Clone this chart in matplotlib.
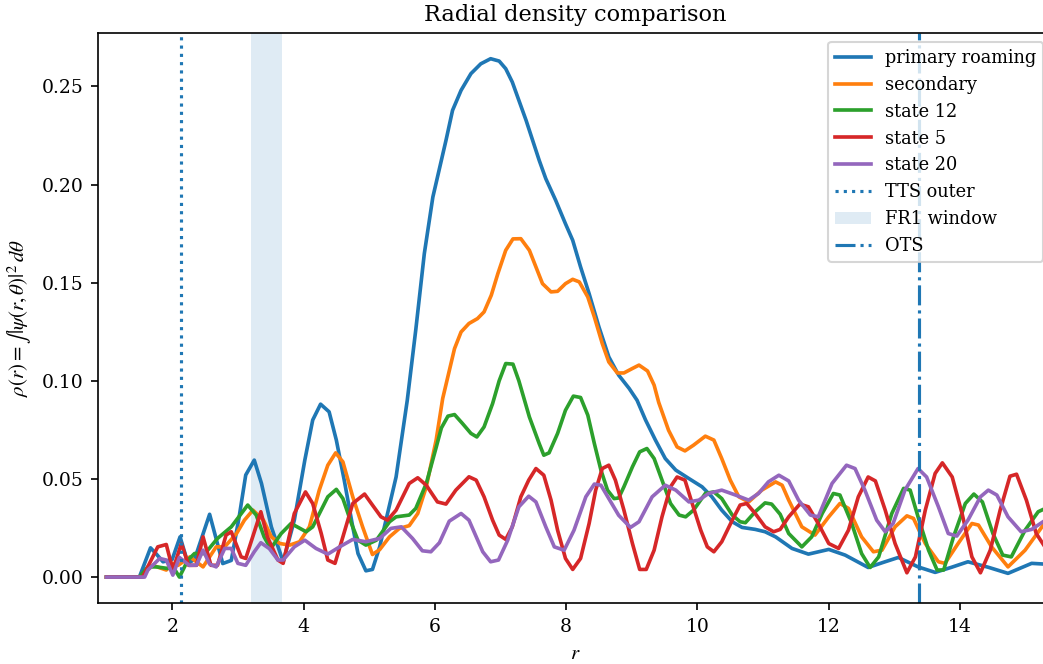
import matplotlib
matplotlib.use("Agg")
import matplotlib.pyplot as plt

# radial densities
r_primary = [1.0, 1.5, 1.67, 1.76, 1.86, 2.0, 2.12, 2.24, 2.34, 2.57, 2.77, 2.90, 3.02, 3.12, 3.25,
             3.36, 3.51, 3.69, 3.86, 4.02, 4.14, 4.26, 4.39, 4.50, 4.62, 4.75, 4.83, 4.95, 5.05,
             5.16, 5.28, 5.41, 5.58, 5.71, 5.84, 5.97, 6.17, 6.27, 6.40, 6.55, 6.70, 6.85, 6.98,
             7.08, 7.18, 7.28, 7.39, 7.49, 7.59, 7.69, 7.84, 7.99, 8.10, 8.22, 8.35, 8.50, 8.65,
             8.80, 8.96, 9.08, 9.21, 9.36, 9.51, 9.67, 9.87, 10.07, 10.22, 10.37, 10.53, 10.68,
             10.88, 11.03, 11.19, 11.44, 11.69, 12.0, 12.25, 12.60, 12.83, 13.06, 13.36, 13.62,
             13.87, 14.12, 14.43, 14.73, 15.09, 15.3]
rho_primary = [0.0, 0.0, 0.0149, 0.0117, 0.0078, 0.009, 0.0205, 0.007, 0.009, 0.032, 0.0069, 0.0085,
               0.0307, 0.052, 0.0596, 0.0477, 0.0256, 0.0078, 0.029, 0.0596, 0.080, 0.0881, 0.0842,
               0.0698, 0.0494, 0.0256, 0.012, 0.0032, 0.0039, 0.0154, 0.0324, 0.051, 0.090, 0.126,
               0.1648, 0.1936, 0.2225, 0.2378, 0.248, 0.2565, 0.2615, 0.2641, 0.2629, 0.259, 0.2522,
               0.2429, 0.2327, 0.2225, 0.2123, 0.203, 0.192, 0.180, 0.1716, 0.158, 0.1444, 0.1274,
               0.1122, 0.1029, 0.0961, 0.0901, 0.080, 0.0698, 0.0604, 0.0545, 0.0502, 0.046, 0.0409,
               0.0341, 0.0282, 0.0253, 0.0243, 0.0231, 0.0205, 0.0146, 0.0117, 0.0141, 0.0112,
               0.0049, 0.0075, 0.010, 0.0052, 0.0024, 0.005, 0.0078, 0.005, 0.0019, 0.007, 0.0066]

r_secondary = [1.0, 1.5, 1.7, 1.91, 2.0, 2.09, 2.27, 2.47, 2.67, 2.80, 2.98, 3.10, 3.23, 3.39, 3.51,
               3.64, 3.79, 3.94, 4.09, 4.24, 4.37, 4.49, 4.60, 4.75, 4.90, 5.05, 5.16, 5.31, 5.46,
               5.61, 5.74, 5.87, 6.02, 6.12, 6.30, 6.40, 6.52, 6.65, 6.75, 6.86, 6.96, 7.08, 7.19,
               7.31, 7.44, 7.54, 7.64, 7.77, 7.87, 7.99, 8.10, 8.20, 8.33, 8.43, 8.55, 8.65, 8.78,
               8.88, 9.01, 9.11, 9.24, 9.34, 9.41, 9.56, 9.69, 9.81, 9.94, 10.12, 10.25, 10.37,
               10.50, 10.63, 10.78, 10.98, 11.19, 11.29, 11.39, 11.59, 11.79, 12.0, 12.17, 12.30,
               12.50, 12.68, 12.81, 13.01, 13.19, 13.29, 13.47, 13.67, 13.77, 13.97, 14.18, 14.28,
               14.48, 14.73, 14.99, 15.3]
rho_secondary = [0.0, 0.0, 0.006, 0.0036, 0.007, 0.006, 0.0103, 0.0052, 0.0154, 0.0154, 0.0222, 0.029,
                 0.0341, 0.029, 0.0205, 0.0171, 0.0163, 0.018, 0.0256, 0.0443, 0.057, 0.0633, 0.0587,
                 0.0409, 0.0256, 0.0115, 0.014, 0.0205, 0.0248, 0.0262, 0.0324, 0.046, 0.0698, 0.091,
                 0.1164, 0.1249, 0.1292, 0.1317, 0.1351, 0.1436, 0.1546, 0.1665, 0.1723, 0.1724,
                 0.1665, 0.158, 0.1495, 0.1453, 0.1456, 0.1495, 0.1517, 0.1504, 0.1427, 0.1325, 0.119,
                 0.1096, 0.104, 0.104, 0.1063, 0.108, 0.105, 0.0978, 0.089, 0.0748, 0.0663, 0.0643,
                 0.0672, 0.0718, 0.0698, 0.0604, 0.0494, 0.0409, 0.0383, 0.0443, 0.0485, 0.0468,
                 0.0392, 0.0256, 0.0214, 0.0307, 0.0375, 0.035, 0.0205, 0.0129, 0.0137, 0.0256,
                 0.0312, 0.0299, 0.0171, 0.0078, 0.007, 0.0171, 0.0273, 0.0265, 0.0154, 0.0052,
                 0.0137, 0.028]

r_state12 = [1.0, 1.5, 1.63, 1.76, 1.93, 2.0, 2.11, 2.24, 2.34, 2.50, 2.69, 2.90, 3.15, 3.28, 3.40,
             3.50, 3.66, 3.81, 4.04, 4.14, 4.37, 4.50, 4.60, 4.73, 4.83, 4.95, 5.11, 5.31, 5.41,
             5.61, 5.71, 5.87, 6.02, 6.10, 6.20, 6.30, 6.42, 6.55, 6.64, 6.75, 6.88, 6.98, 7.08,
             7.19, 7.28, 7.44, 7.59, 7.66, 7.74, 7.87, 7.99, 8.11, 8.22, 8.33, 8.43, 8.53, 8.63,
             8.73, 8.80, 8.88, 9.01, 9.12, 9.23, 9.34, 9.46, 9.59, 9.72, 9.82, 9.94, 10.12, 10.25,
             10.37, 10.53, 10.65, 10.73, 10.88, 11.03, 11.13, 11.26, 11.39, 11.59, 11.74, 11.90,
             12.07, 12.17, 12.35, 12.50, 12.63, 12.76, 12.96, 13.14, 13.24, 13.36, 13.52, 13.65,
             13.75, 13.90, 14.08, 14.21, 14.34, 14.50, 14.65, 14.78, 14.99, 15.19, 15.3]
rho_state12 = [0.0, 0.0, 0.0052, 0.0052, 0.0044, 0.006, 0.0, 0.0087, 0.012, 0.012, 0.0197, 0.0256,
               0.0367, 0.0316, 0.0205, 0.0145, 0.0222, 0.0273, 0.0231, 0.0256, 0.0409, 0.0447, 0.040,
               0.0273, 0.0188, 0.0163, 0.0188, 0.0282, 0.0307, 0.0316, 0.035, 0.0477, 0.0660, 0.076,
               0.082, 0.0828, 0.0783, 0.0732, 0.0714, 0.0765, 0.0884, 0.100, 0.1088, 0.1085, 0.100,
               0.0816, 0.068, 0.0621, 0.0633, 0.0732, 0.085, 0.0922, 0.0915, 0.0825, 0.068, 0.0545,
               0.0443, 0.040, 0.0403, 0.046, 0.0562, 0.0638, 0.0655, 0.0604, 0.0494, 0.0375, 0.0316,
               0.0307, 0.0341, 0.0426, 0.0434, 0.040, 0.0316, 0.0282, 0.0277, 0.0333, 0.0378, 0.0372,
               0.032, 0.0222, 0.0154, 0.0205, 0.0324, 0.0426, 0.0418, 0.0273, 0.012, 0.0049, 0.0103,
               0.0324, 0.0452, 0.0443, 0.0307, 0.0137, 0.0036, 0.0036, 0.0205, 0.0375, 0.0423,
               0.0383, 0.0222, 0.0112, 0.0103, 0.0239, 0.0333, 0.035]

r_state5 = [1.0, 1.55, 1.78, 1.91, 2.01, 2.14, 2.25, 2.37, 2.47, 2.59, 2.69, 2.82, 2.90, 3.05, 3.12,
            3.35, 3.45, 3.61, 3.69, 3.86, 4.03, 4.14, 4.27, 4.37, 4.48, 4.60, 4.75, 4.93, 5.05,
            5.18, 5.28, 5.41, 5.61, 5.74, 5.87, 6.04, 6.17, 6.32, 6.52, 6.63, 6.75, 6.88, 6.98,
            7.08, 7.18, 7.31, 7.43, 7.54, 7.66, 7.77, 7.87, 7.99, 8.10, 8.22, 8.35, 8.45, 8.55,
            8.65, 8.75, 8.88, 9.01, 9.12, 9.22, 9.34, 9.46, 9.59, 9.69, 9.81, 9.92, 10.05, 10.15,
            10.25, 10.37, 10.53, 10.65, 10.75, 10.88, 11.03, 11.16, 11.26, 11.39, 11.56, 11.69,
            11.84, 12.0, 12.15, 12.30, 12.45, 12.60, 12.71, 12.86, 13.01, 13.19, 13.32, 13.47,
            13.62, 13.73, 13.88, 14.03, 14.18, 14.31, 14.46, 14.61, 14.76, 14.86, 15.01, 15.16, 15.3]
rho_state5 = [0.0, 0.0, 0.0154, 0.0166, 0.0036, 0.0171, 0.006, 0.006, 0.0205, 0.006, 0.006, 0.0214,
              0.0231, 0.0103, 0.0095, 0.0333, 0.0205, 0.0087, 0.007, 0.0324, 0.0434, 0.0375, 0.0222,
              0.0087, 0.007, 0.0205, 0.0375, 0.0423, 0.0367, 0.0307, 0.029, 0.0341, 0.0477, 0.0506,
              0.0468, 0.0383, 0.0372, 0.0443, 0.0511, 0.0494, 0.0409, 0.029, 0.0214, 0.0192, 0.0256,
              0.0409, 0.0494, 0.0553, 0.0519, 0.0392, 0.0239, 0.0095, 0.0039, 0.0095, 0.0273, 0.0443,
              0.0553, 0.057, 0.0494, 0.0341, 0.0171, 0.0039, 0.0039, 0.0137, 0.0307, 0.046, 0.051,
              0.0494, 0.0375, 0.0239, 0.0154, 0.0129, 0.018, 0.029, 0.0367, 0.0375, 0.0324, 0.0256,
              0.0231, 0.0243, 0.0307, 0.0372, 0.0358, 0.0273, 0.0171, 0.0146, 0.0239, 0.0409, 0.051,
              0.049, 0.0341, 0.0171, 0.0022, 0.0103, 0.0341, 0.0528, 0.0582, 0.051, 0.0324, 0.0103,
              0.0022, 0.0137, 0.0341, 0.0514, 0.0524, 0.0392, 0.0222, 0.015]

r_state20 = [1.0, 1.58, 1.63, 1.81, 1.91, 2.01, 2.11, 2.26, 2.37, 2.47, 2.57, 2.67, 2.80, 2.90, 3.0,
             3.12, 3.25, 3.35, 3.48, 3.61, 3.69, 3.86, 4.02, 4.19, 4.37, 4.55, 4.75, 4.95, 5.16,
             5.33, 5.49, 5.66, 5.81, 5.94, 6.07, 6.22, 6.40, 6.52, 6.73, 6.85, 6.97, 7.11, 7.28,
             7.43, 7.54, 7.69, 7.82, 7.97, 8.12, 8.30, 8.43, 8.53, 8.68, 8.80, 8.98, 9.11, 9.31,
             9.51, 9.67, 9.87, 10.02, 10.17, 10.37, 10.58, 10.78, 10.93, 11.08, 11.24, 11.39,
             11.54, 11.72, 11.84, 12.05, 12.27, 12.40, 12.55, 12.73, 12.86, 12.98, 13.16, 13.36,
             13.49, 13.67, 13.82, 13.95, 14.12, 14.31, 14.43, 14.56, 14.73, 14.93, 15.09, 15.3]
rho_state20 = [0.0, 0.0, 0.0036, 0.0095, 0.0087, 0.001, 0.010, 0.006, 0.0061, 0.0137, 0.0066, 0.0052,
               0.0146, 0.0146, 0.007, 0.006, 0.0129, 0.0175, 0.0145, 0.0087, 0.0087, 0.0154, 0.0188,
               0.0146, 0.0117, 0.0154, 0.0192, 0.018, 0.0197, 0.0248, 0.0256, 0.0197, 0.0134, 0.0129,
               0.0175, 0.0285, 0.0324, 0.029, 0.0129, 0.0078, 0.0087, 0.0188, 0.0358, 0.0412, 0.0383,
               0.0256, 0.0154, 0.0137, 0.0239, 0.0409, 0.0474, 0.0468, 0.0383, 0.0315, 0.0253, 0.0282,
               0.0409, 0.0468, 0.0443, 0.0383, 0.0392, 0.0426, 0.0443, 0.0418, 0.0392, 0.0426, 0.0485,
               0.0519, 0.049, 0.0392, 0.0316, 0.0307, 0.0477, 0.057, 0.0553, 0.0443, 0.029, 0.0231,
               0.0273, 0.0443, 0.0553, 0.051, 0.0358, 0.0222, 0.0209, 0.029, 0.0409, 0.0443, 0.0418,
               0.0307, 0.0231, 0.0243, 0.029]

series_labels = ["primary roaming", "secondary", "state 12", "state 5", "state 20"]
tts_outer = 2.13
fr1_window = (3.20, 3.67)
ots = 13.38

plt.rcParams["font.family"] = "DejaVu Serif"
plt.rcParams["font.size"] = 9
plt.rcParams["mathtext.fontset"] = "stix"

fig = plt.figure(figsize=(1043 / 150, 664 / 150), dpi=150)
ax = fig.add_axes([98 / 1043, 61 / 664, 954 / 1043, 570 / 664])

curves = [(r_primary, rho_primary), (r_secondary, rho_secondary), (r_state12, rho_state12),
          (r_state5, rho_state5), (r_state20, rho_state20)]
for (rr, rho), lab in zip(curves, series_labels):
    ax.plot(rr, rho, lw=1.75, label=lab)

ax.axvline(tts_outer, color="C0", ls=":", lw=1.5, label="TTS outer")
ax.axvspan(fr1_window[0], fr1_window[1], color="C0", alpha=0.14, lw=0, label="FR1 window")
ax.axvline(ots, color="C0", ls="-.", lw=1.5, label="OTS")

ax.set_xlim(0.87, 15.4)
ax.set_ylim(-0.0132, 0.2772)
ax.set_xticks([2, 4, 6, 8, 10, 12, 14])
ax.set_yticks([0.0, 0.05, 0.10, 0.15, 0.20, 0.25])
ax.set_title("Radial density comparison")
ax.set_xlabel(r"$r$", fontsize=10)
ax.set_ylabel(r"$\rho(r) = \int |\psi(r,\theta)|^2\, d\theta$", fontsize=10)
ax.legend(loc="upper right", fontsize=8.5)

fig.savefig("out.png", dpi=150)
